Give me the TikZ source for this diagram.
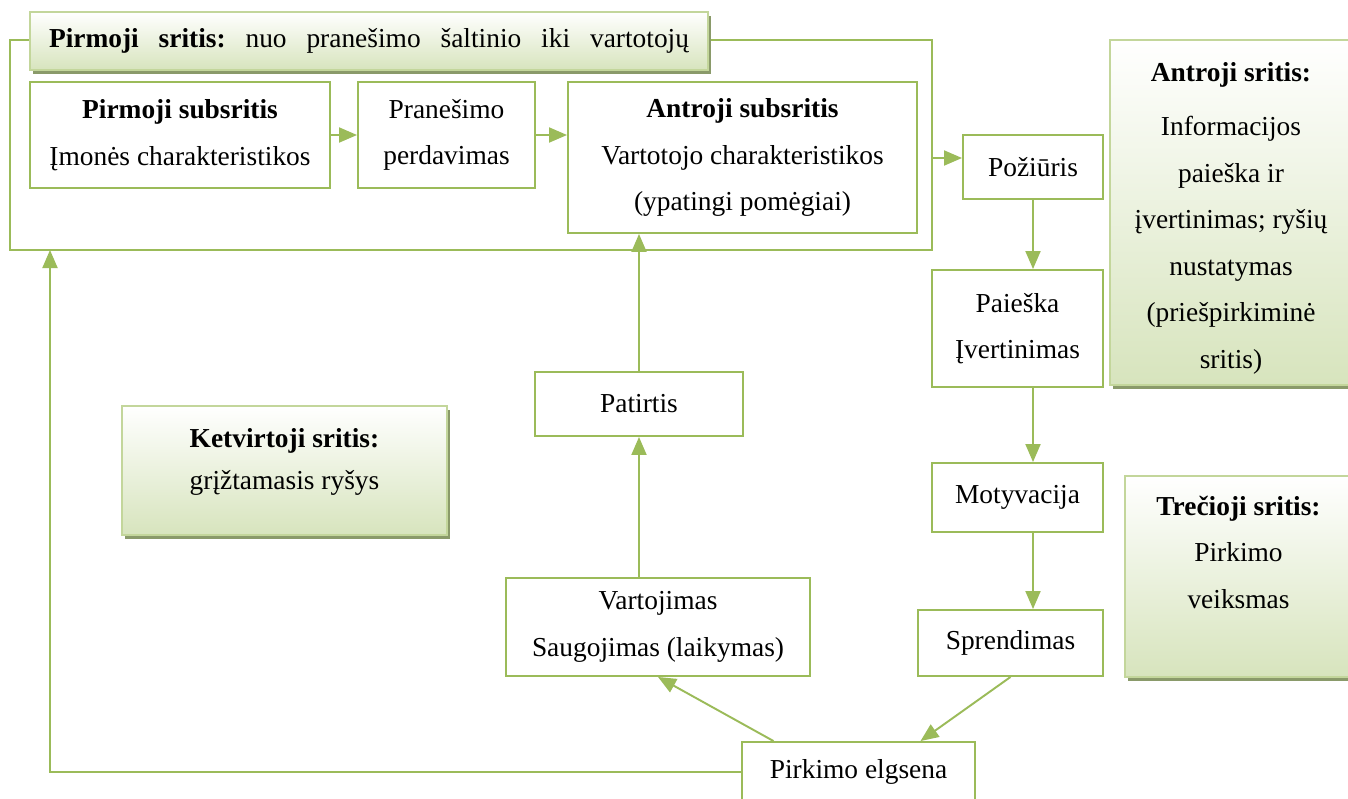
\documentclass[tikz,border=0pt]{standalone}
\usepackage{fontspec}
\setmainfont{Liberation Serif}
\usetikzlibrary{arrows.meta,shadows}
\definecolor{olivegreen}{HTML}{9BBB59}
\definecolor{lightolive}{HTML}{C3D69B}
\definecolor{paleolive}{HTML}{D7E4BD}
\definecolor{shadowolive}{HTML}{8A9A6A}

\begin{document}
\begin{tikzpicture}[
  font=\fontsize{15.6}{26.5}\selectfont\frenchspacing,
  every node/.style={inner sep=0pt},
  box/.style={draw=olivegreen, line width=1.1pt, fill=white, align=center},
  region/.style={draw=lightolive, line width=1.1pt, top color=white, bottom color=paleolive,
    drop shadow={shadow xshift=0.05cm, shadow yshift=-0.07cm, fill=shadowolive, opacity=1}},
  link/.style={olivegreen, line width=1.1pt, -{Triangle[length=0.36cm,width=0.3cm]}}
]
\useasboundingbox (0,0) rectangle (26.96,-15.96);
% pirmoji sritis
\node[draw=olivegreen, line width=1.1pt, minimum width=18.44cm, minimum height=4.2cm] (area1) at (9.42,-2.9) {};
\node[region, minimum width=13.56cm, minimum height=1.16cm] (title1) at (7.38,-0.82)
  {\makebox[12.8cm][s]{\textbf{Pirmoji} \textbf{sritis:} nuo pranešimo šaltinio iki vartotojų}};
\node[box, minimum width=6cm, minimum height=2.12cm] (sub1) at (3.6,-2.7) {\textbf{Pirmoji subsritis}\\Įmonės charakteristikos};
\node[box, minimum width=3.54cm, minimum height=2.12cm] (perd) at (8.93,-2.7) {Pranešimo\\perdavimas};
\node[box, minimum width=6.98cm, minimum height=3.02cm] (sub2) at (14.85,-3.15) {\textbf{Antroji subsritis}\\Vartotojo charakteristikos\\(ypatingi pomėgiai)};
% antroji ir trecioji sritis
\node[box, minimum width=2.8cm, minimum height=1.28cm] (poziuris) at (20.66,-3.34) {Požiūris};
\node[box, minimum width=3.42cm, minimum height=2.34cm] (paieska) at (20.35,-6.57) {Paieška\\Įvertinimas};
\node[box, minimum width=3.42cm, minimum height=1.38cm] (motyv) at (20.35,-9.95) {Motyvacija};
\node[box, minimum width=3.7cm, minimum height=1.32cm] (sprend) at (20.21,-12.86) {Sprendimas};
\node[box, minimum width=4.66cm, minimum height=1.2cm] (elgsena) at (17.17,-15.44) {Pirkimo elgsena};
% ketvirtoji sritis
\node[box, minimum width=6.08cm, minimum height=1.96cm] (vartoj) at (13.16,-12.54) {Vartojimas\\Saugojimas (laikymas)};
\node[box, minimum width=4.16cm, minimum height=1.28cm] (patirtis) at (12.78,-8.08) {Patirtis};
\node[region] (area2) at (24.62,-4.25) {\parbox[c][6.9cm][t]{4.84cm}{\centering\vspace{0.44cm}
  \textbf{Antroji sritis:}\\[0.16cm]Informacijos\\paieška ir\\įvertinimas; ryšių\\nustatymas\\(priešpirkiminė\\sritis)}};
\node[region] (area3) at (24.77,-11.53) {\parbox[c][4.02cm][t]{4.54cm}{\centering\vspace{0.4cm}
  \textbf{Trečioji sritis:}\\Pirkimo\\veiksmas}};
\node[region] (area4) at (5.69,-9.41) {\parbox[c][2.58cm][t]{6.5cm}{\centering\vspace{0.44cm}
  \textbf{Ketvirtoji sritis:}\\[-0.08cm]grįžtamasis ryšys}};
\coordinate (fb) at (1.0,-5.0);

\draw[link] (sub1) -- (perd);
\draw[link] (perd.east) -- (perd.east -| sub2.west);
\draw[link] ([yshift=0.18cm]poziuris.west -| area1.east) -- ([yshift=0.18cm]poziuris.west);
\draw[link] (poziuris.south) -- (poziuris.south |- paieska.north);
\draw[link] (poziuris.south |- paieska.south) -- (poziuris.south |- motyv.north);
\draw[link] (poziuris.south |- motyv.south) -- (poziuris.south |- sprend.north);
\draw[link] (sprend.south) -- ([xshift=1.24cm]elgsena.north);
\draw[link] ([xshift=-1.7cm]elgsena.north) -- (vartoj.south);
\draw[link] (vartoj.north -| patirtis) -- (patirtis.south);
\draw[link] (patirtis.north) -- (patirtis.north |- sub2.south);
\draw[link] (elgsena.west) -| (fb);
\end{tikzpicture}
\end{document}
